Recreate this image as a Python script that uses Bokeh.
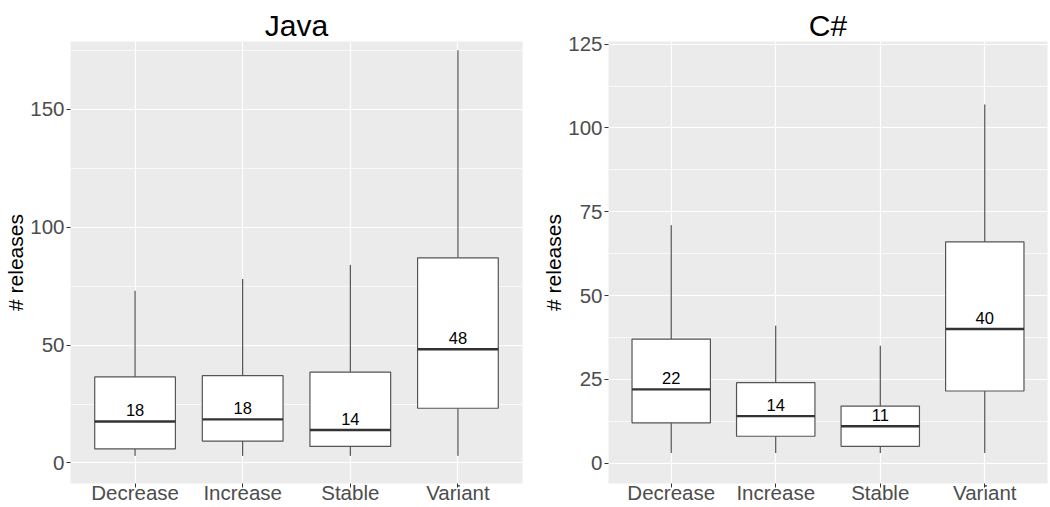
from bokeh.plotting import figure
from bokeh.layouts import row
from bokeh.models import FixedTicker, Range1d, ColumnDataSource
from bokeh.transform import dodge
from bokeh.core.properties import value
from bokeh.embed import file_html
from bokeh.resources import INLINE

categories = ["Decrease", "Increase", "Stable", "Variant"]

java_low = [3, 3, 3, 3]
java_q1 = [6, 9.3, 7, 23.2]
java_med = [17.6, 18.5, 14, 48.2]
java_q3 = [36.5, 37, 38.5, 87]
java_high = [73, 78, 84, 175]
java_labels = ["18", "18", "14", "48"]

cs_low = [3, 3, 3, 3]
cs_q1 = [12, 8, 5, 21.5]
cs_med = [22, 14, 11, 40]
cs_q3 = [37, 24, 17, 66]
cs_high = [71, 41, 35, 107]
cs_labels = ["22", "14", "11", "40"]

java_major = [0, 50, 100, 150]
java_minor = [25, 75, 125, 175]
cs_major = [0, 25, 50, 75, 100, 125]
cs_minor = [12.5, 37.5, 62.5, 87.5, 112.5]

FONT = "Liberation Sans"
BOX_W = 0.75


def panel(title, low, q1, med, q3, high, labels, yr, major, minor, width, border_left, border_right):
    xs = list(range(1, len(categories) + 1))
    src = ColumnDataSource(dict(x=xs, low=low, q1=q1, med=med, q3=q3, high=high, lab=labels))
    p = figure(width=width, height=506, output_backend="svg", toolbar_location=None,
               x_range=Range1d(0.4, 4.6), y_range=Range1d(*yr),
               min_border_left=border_left, min_border_right=border_right,
               min_border_top=41, min_border_bottom=0)
    p.title.text = title
    p.title.align = "center"
    p.title.text_font = FONT
    p.title.text_font_size = "30px"
    p.title.text_font_style = "normal"
    p.title.text_color = "black"
    p.title.standoff = 0
    p.title.offset = 0

    p.background_fill_color = "#EBEBEB"
    p.border_fill_color = "white"
    p.outline_line_color = None

    p.xaxis.ticker = FixedTicker(ticks=xs)
    p.xaxis.major_label_overrides = {x: c for x, c in zip(xs, categories)}
    p.yaxis.ticker = FixedTicker(ticks=major, minor_ticks=minor)
    for ax in (p.xaxis, p.yaxis):
        ax.axis_line_color = None
        ax.major_tick_line_color = "#333333"
        ax.major_tick_in = 0
        ax.major_tick_out = 4
        ax.minor_tick_line_color = None
        ax.major_label_text_font = FONT
        ax.major_label_text_font_size = "20.5px"
        ax.major_label_text_color = "#4D4D4D"
    p.xaxis.major_label_standoff = -7
    p.xaxis.axis_label_standoff = 0
    p.yaxis.major_label_standoff = 2
    p.yaxis.axis_label = "# releases"
    p.yaxis.axis_label_text_font = FONT
    p.yaxis.axis_label_text_font_size = "21px"
    p.yaxis.axis_label_text_font_style = "normal"
    p.yaxis.axis_label_text_color = "black"
    p.yaxis.axis_label_standoff = 0

    p.xgrid.grid_line_color = "white"
    p.xgrid.grid_line_width = 1.2
    p.ygrid.grid_line_color = "white"
    p.ygrid.grid_line_width = 1.2
    p.ygrid.minor_grid_line_color = "white"
    p.ygrid.minor_grid_line_width = 0.7

    p.segment(x0="x", y0="low", x1="x", y1="q1", source=src, line_color="#333333", line_width=1)
    p.segment(x0="x", y0="q3", x1="x", y1="high", source=src, line_color="#333333", line_width=1)
    p.vbar(x="x", bottom="q1", top="q3", width=BOX_W, source=src,
           fill_color="white", line_color="#555555", line_width=1.2)
    p.segment(x0=dodge("x", -BOX_W / 2), y0="med", x1=dodge("x", BOX_W / 2), y1="med",
              source=src, line_color="#333333", line_width=2.4)
    p.text(x="x", y="med", text="lab", source=src, text_align="center",
           text_baseline="alphabetic", y_offset=-11, text_font_size="16.5px",
           text_color="black", text_font=value(FONT))
    return p


p1 = panel("Java", java_low, java_q1, java_med, java_q3, java_high, java_labels,
           (-8.7, 178.7), java_major, java_minor, 530, 70, 8)
p2 = panel("C#", cs_low, cs_q1, cs_med, cs_q3, cs_high, cs_labels,
           (-6.1, 125.8), cs_major, cs_minor, 519, 78, 2)

layout = row(p1, p2)
open("out.html", "w").write(file_html(layout, INLINE))
